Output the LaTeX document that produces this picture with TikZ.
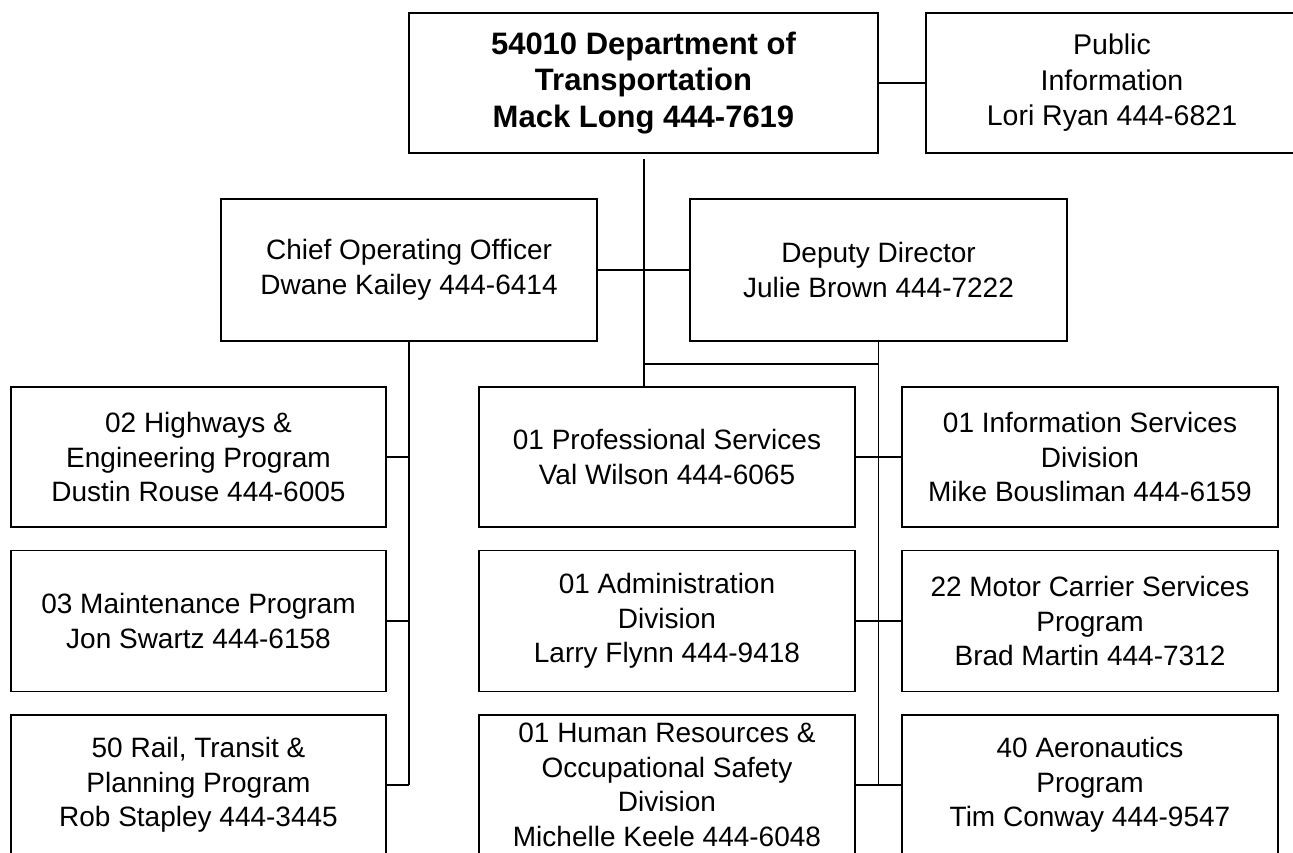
\documentclass[tikz,border=0pt]{standalone}
\usepackage{fontspec}
\setmainfont{Liberation Sans}
\begin{document}
\begin{tikzpicture}[x=1pt,y=-1pt,
  box/.style={draw, line width=1.8pt, rectangle, align=center, inner sep=0pt,
    font=\fontsize{28}{34.5}\selectfont},
  conn/.style={line width=1.8pt}]
\useasboundingbox (0,0) rectangle (1293,853);
\clip (0,0) rectangle (1293,853);
% top level
\node[box, minimum width=469pt, minimum height=140pt, font=\fontsize{31}{36.5}\selectfont\bfseries] (top) at (643.5,83) {54010 Department of\\Transportation\\Mack Long 444-7619};
\node[box, minimum width=372pt, minimum height=140pt, font=\fontsize{28.5}{35.5}\selectfont] (pub) at (1112,83) {Public\\Information\\Lori Ryan 444-6821};
% second level
\node[box, minimum width=376pt, minimum height=142pt] (coo) at (409,270) {Chief Operating Officer\\Dwane Kailey 444-6414};
\node[box, minimum width=377pt, minimum height=142pt] (dep) at (878.5,270) {Deputy Director\\Julie Brown 444-7222};
% left column
\node[box, minimum width=375pt, minimum height=140pt] (l1) at (198.5,457) {02 Highways \&\\Engineering Program\\Dustin Rouse 444-6005};
\node[box, minimum width=375pt, minimum height=141pt] (l2) at (198.5,621) {03 Maintenance Program\\Jon Swartz 444-6158};
\node[box, minimum width=375pt, minimum height=140pt] (l3) at (198.5,785) {50 Rail, Transit \&\\Planning Program\\Rob Stapley 444-3445};
% middle column
\node[box, minimum width=376pt, minimum height=140pt] (m1) at (667,457) {01 Professional Services\\Val Wilson 444-6065};
\node[box, minimum width=376pt, minimum height=141pt] (m2) at (667,621) {01 Administration\\Division\\Larry Flynn 444-9418};
\node[box, minimum width=376pt, minimum height=140pt] (m3) at (667,785) {01 Human Resources \&\\Occupational Safety\\Division\\Michelle Keele 444-6048};
% right column
\node[box, minimum width=376pt, minimum height=140pt] (r1) at (1090,457) {01 Information Services\\Division\\Mike Bousliman 444-6159};
\node[box, minimum width=376pt, minimum height=141pt] (r2) at (1090,621) {22 Motor Carrier Services\\Program\\Brad Martin 444-7312};
\node[box, minimum width=376pt, minimum height=140pt] (r3) at (1090,785) {40 Aeronautics\\Program\\Tim Conway 444-9547};
% connectors
\coordinate (topgap) at (644,159);
\draw[conn] (top.east) -- (pub.west);
\draw[conn] (topgap) -- (topgap |- m1.north);
\draw[conn] (coo.east) -- (dep.west);
\coordinate (hj) at (644,364);
\draw[conn] (hj) -- (dep.south |- hj);
\draw[conn] (dep.south) -- (dep.south |- r3.west);
\draw[conn] (coo.south) -- (coo.south |- l3.east);
\draw[conn] (l1.east) -- (coo.south |- l1.east);
\draw[conn] (l2.east) -- (coo.south |- l2.east);
\draw[conn] (l3.east) -- (coo.south |- l3.east);
\draw[conn] (m1.east) -- (r1.west);
\draw[conn] (m2.east) -- (r2.west);
\draw[conn] (m3.east) -- (r3.west);
\end{tikzpicture}
\end{document}
